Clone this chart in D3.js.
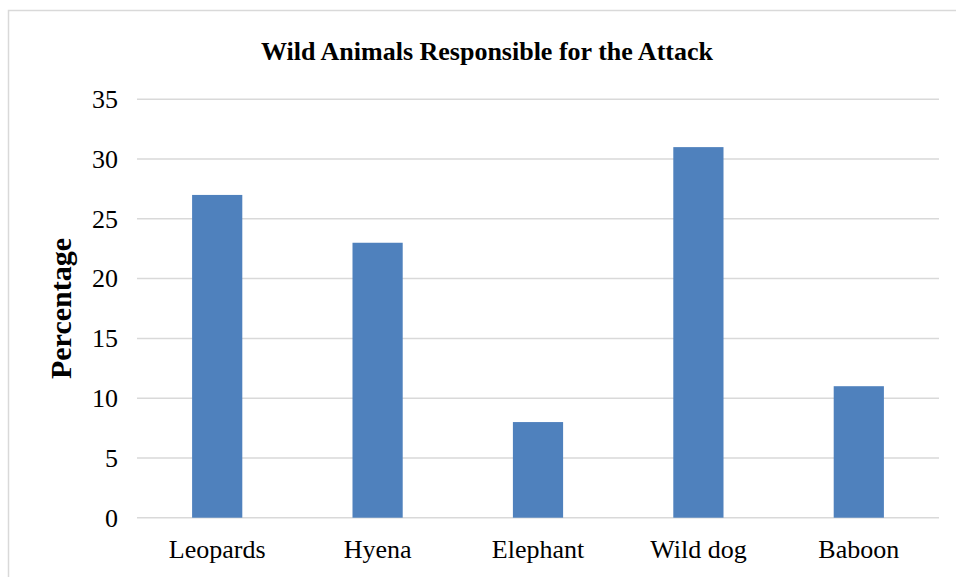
<!DOCTYPE html>
<html>
<head>
<meta charset="utf-8">
<script src="https://cdn.jsdelivr.net/npm/d3@7"></script>
<style>
  html, body { margin: 0; padding: 0; background: #fff; }
  svg { display: block; }
  svg text { font-family: "Liberation Serif", "Times New Roman", serif; fill: #000; }
</style>
</head>
<body>
<script>
const categories = ["Leopards", "Hyena", "Elephant", "Wild dog", "Baboon"];
const values = [27, 23, 8, 31, 11];
const yTicks = [0, 5, 10, 15, 20, 25, 30, 35];
const title = "Wild Animals Responsible for the Attack";
const yTitle = "Percentage";

const W = 956, H = 577;
const plot = { left: 137, right: 939, top: 99.3, bottom: 517.7 };
const serif = '"Liberation Serif", "Times New Roman", serif';

const svg = d3.select("body").append("svg").attr("width", W).attr("height", H);

// chart frame
svg.append("rect")
  .attr("x", 8.5).attr("y", 10.5)
  .attr("width", 960).attr("height", 600)
  .attr("fill", "#fff").attr("stroke", "#d9d9d9").attr("stroke-width", 1.5);

const x = d3.scaleBand().domain(categories)
  .range([plot.left, plot.right]).paddingInner(0.687).paddingOuter(0.3435);
const y = d3.scaleLinear().domain([0, 35]).range([plot.bottom, plot.top]);

// horizontal gridlines
svg.append("g").selectAll("line").data(yTicks).join("line")
  .attr("x1", plot.left).attr("x2", plot.right)
  .attr("y1", d => y(d)).attr("y2", d => y(d))
  .attr("stroke", "#d9d9d9").attr("stroke-width", 1.5);

// value axis labels
const yAxis = d3.axisLeft(y).tickValues(yTicks).tickSize(0).tickPadding(19);
svg.append("g").attr("transform", `translate(${plot.left},0)`).call(yAxis)
  .attr("font-family", serif).attr("font-size", 26)
  .call(g => g.select(".domain").remove())
  .call(g => g.selectAll("text")
    .style("font-family", serif)
    .style("font-size", "26px").attr("fill", "#000"));

// bars
svg.append("g").selectAll("rect").data(categories).join("rect")
  .attr("x", d => x(d))
  .attr("width", x.bandwidth())
  .attr("y", (d, i) => y(values[i]))
  .attr("height", (d, i) => y(0) - y(values[i]))
  .attr("fill", "#4F81BD");

// category axis labels
const xAxis = d3.axisBottom(x).tickSize(0).tickPadding(22);
svg.append("g").attr("transform", `translate(0,${plot.bottom})`).call(xAxis)
  .attr("font-family", serif).attr("font-size", 26)
  .call(g => g.select(".domain").remove())
  .call(g => g.selectAll("text")
    .style("font-family", serif)
    .style("font-size", "26px").attr("fill", "#000"));

// title
svg.append("text")
  .attr("x", 487).attr("y", 60)
  .attr("text-anchor", "middle")
  .style("font-family", serif)
  .style("font-size", "26px").style("font-weight", "bold")
  .text(title);

// value axis title
svg.append("text")
  .attr("transform", `translate(71,${(plot.top + plot.bottom) / 2}) rotate(-90)`)
  .attr("text-anchor", "middle")
  .style("font-family", serif)
  .style("font-size", "30px").style("font-weight", "bold")
  .text(yTitle);
</script>
</body>
</html>
